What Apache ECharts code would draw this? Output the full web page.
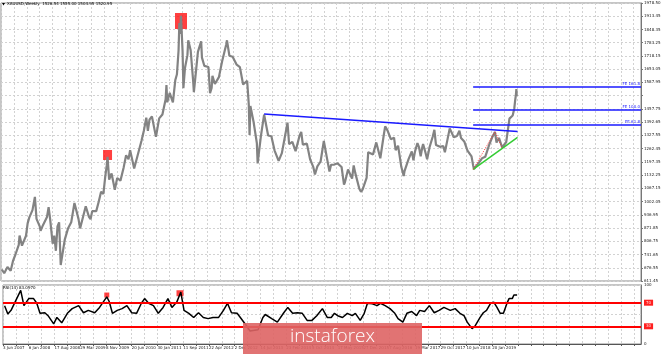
<!DOCTYPE html>
<html><head><meta charset="utf-8">
<script src="https://cdn.jsdelivr.net/npm/echarts@6/dist/echarts.min.js"></script>
<style>html,body{margin:0;padding:0;background:#fff}#c{width:665px;height:354px}</style>
</head><body><div id="c"></div>
<script>
// ---------- data ----------
const priceDates = ['2007-06-03','2007-06-24','2007-07-22','2007-08-19','2007-09-09','2007-09-30','2007-10-28','2007-11-04','2007-11-25','2007-12-30',
'2008-01-13','2008-01-27','2008-02-24','2008-03-16','2008-03-30','2008-04-27','2008-05-04','2008-05-25','2008-06-29','2008-07-13','2008-07-27','2008-08-17','2008-08-31','2008-09-14','2008-09-28','2008-10-12','2008-10-26','2008-11-09','2008-11-30','2008-12-28',
'2009-01-25','2009-02-22','2009-03-29','2009-04-12','2009-05-31','2009-06-28','2009-07-12','2009-07-26','2009-08-30','2009-09-20','2009-10-11','2009-10-31','2009-11-15','2009-11-29','2009-12-06','2009-12-20',
'2010-01-10','2010-01-31','2010-02-07','2010-02-28','2010-03-28','2010-04-25','2010-05-16','2010-06-06','2010-06-20','2010-07-25','2010-08-29','2010-09-26','2010-10-17','2010-10-31','2010-11-07','2010-11-21','2010-12-05','2010-12-26',
'2011-01-30','2011-02-27','2011-03-27','2011-04-24','2011-05-01','2011-05-08','2011-05-29','2011-06-26','2011-07-17','2011-07-31','2011-08-14','2011-08-21','2011-08-28','2011-09-04','2011-09-18','2011-09-25','2011-10-09','2011-10-30','2011-11-06','2011-11-27','2011-12-18','2011-12-25',
'2012-01-29','2012-02-26','2012-03-04','2012-03-25','2012-04-29','2012-05-13','2012-05-27','2012-06-03','2012-06-24','2012-07-29','2012-08-26','2012-09-30','2012-10-07','2012-10-28','2012-11-25','2012-12-30',
'2013-01-27','2013-02-24','2013-03-31','2013-04-14','2013-04-21','2013-04-28','2013-05-26','2013-06-23','2013-06-30','2013-07-28','2013-08-25','2013-09-29','2013-10-27','2013-11-24','2013-12-29',
'2014-01-26','2014-02-23','2014-03-16','2014-03-30','2014-04-27','2014-05-25','2014-06-29','2014-07-13','2014-07-27','2014-08-31','2014-09-28','2014-10-26','2014-11-09','2014-11-30','2014-12-28',
'2015-01-25','2015-02-22','2015-03-15','2015-03-29','2015-04-26','2015-05-24','2015-06-28','2015-07-19','2015-07-26','2015-08-23','2015-09-27','2015-10-11','2015-10-25','2015-11-29','2015-12-13','2015-12-27',
'2016-01-31','2016-02-14','2016-02-28','2016-03-27','2016-04-24','2016-05-01','2016-05-29','2016-06-26','2016-07-10','2016-07-31','2016-08-28','2016-09-25','2016-10-09','2016-10-30','2016-11-27','2016-12-18','2016-12-25',
'2017-01-29','2017-02-26','2017-03-12','2017-03-26','2017-04-16','2017-04-30','2017-05-14','2017-05-28','2017-06-04','2017-06-25','2017-07-09','2017-07-30','2017-08-27','2017-09-10','2017-09-24','2017-10-29','2017-11-26','2017-12-10','2017-12-31',
'2018-01-21','2018-02-25','2018-03-25','2018-04-15','2018-04-29','2018-05-27','2018-06-24','2018-07-29','2018-08-12','2018-08-19','2018-09-30','2018-10-28','2018-11-25','2018-12-30',
'2019-01-27','2019-02-17','2019-03-03','2019-03-24','2019-04-21','2019-05-26','2019-06-23','2019-06-30','2019-07-21','2019-08-04','2019-08-11','2019-08-18','2019-08-22','2019-08-25'];
const priceValues = [668,650,680,662,712,743,789,835,785,834,
895,923,960,1025,917,880,858,886,926,975,912,795,834,760,880,900,690,740,815,869,
900,995,917,870,979,927,915,955,955,1000,1050,1040,1118,1180,1222,1110,
1140,1081,1060,1118,1105,1170,1230,1210,1255,1165,1240,1300,1350,1357,1415,1350,1405,1421,
1320,1411,1430,1505,1575,1490,1536,1490,1600,1628,1745,1880,1826,1915,1740,1560,1660,1722,1795,1746,1600,1540,
1738,1790,1710,1669,1664,1535,1561,1620,1580,1614,1692,1773,1795,1719,1714,1675,
1663,1578,1596,1480,1330,1472,1393,1290,1190,1323,1430,1327,1323,1253,1202,
1240,1326,1390,1284,1296,1250,1327,1345,1282,1287,1210,1171,1135,1175,1199,
1300,1213,1150,1183,1184,1190,1172,1085,1095,1160,1115,1180,1142,1065,1050,1061,
1118,1245,1238,1234,1293,1300,1215,1322,1372,1351,1309,1316,1255,1277,1173,1128,1152,
1211,1249,1205,1249,1290,1268,1225,1269,1285,1242,1210,1269,1322,1355,1280,1271,1275,1245,1303,
1362,1318,1325,1350,1315,1298,1253,1224,1180,1162,1192,1215,1222,1282,
1321,1344,1292,1315,1268,1295,1410,1409,1425,1460,1497,1527,1555,1521];

const rsiDates = ['2007-06-10','2007-07-08','2007-08-05','2007-09-16','2007-10-28','2007-11-25','2008-01-06','2008-02-17','2008-03-16','2008-04-13','2008-05-25','2008-06-22','2008-08-10','2008-09-07','2008-10-19','2008-12-07',
'2009-01-18','2009-03-15','2009-04-26','2009-06-07','2009-08-02','2009-09-13','2009-11-15','2009-12-06','2010-01-03','2010-02-14','2010-03-28','2010-05-09','2010-06-20','2010-08-01','2010-09-12','2010-10-10','2010-11-14','2010-12-26',
'2011-02-06','2011-03-20','2011-05-01','2011-06-05','2011-07-17','2011-08-21','2011-09-18','2011-10-30','2011-12-11','2012-01-22','2012-03-04','2012-04-15','2012-05-27','2012-07-15','2012-08-26','2012-09-30','2012-11-04','2012-12-23',
'2013-01-20','2013-03-03','2013-04-14','2013-06-23','2013-08-04','2013-08-25','2013-10-20','2013-12-08','2014-02-02','2014-03-09','2014-04-20','2014-06-01','2014-07-13','2014-08-24','2014-10-05','2014-11-16',
'2015-01-04','2015-02-15','2015-03-22','2015-04-19','2015-05-17','2015-06-28','2015-08-09','2015-09-20','2015-10-18','2015-11-29','2016-01-03','2016-01-31','2016-03-13','2016-04-24','2016-05-22','2016-07-03','2016-08-14','2016-09-25','2016-10-23','2016-12-04',
'2017-01-08','2017-02-19','2017-04-02','2017-04-30','2017-06-11','2017-07-23','2017-09-03','2017-10-15','2017-11-26','2018-01-21','2018-03-04','2018-04-15','2018-05-20','2018-06-17','2018-07-29','2018-08-26','2018-10-07','2018-11-04','2018-12-02',
'2019-01-06','2019-02-03','2019-03-03','2019-03-31','2019-04-28','2019-06-02','2019-06-16','2019-06-30','2019-07-14','2019-07-28','2019-08-11','2019-08-25'];
const rsiValues = [65,51,57,74,91,65,77,77,69,52,53,48,34,45,36,52,
60,65,53,57,53,62,80,72,52,57,60,65,53,52,69,77,69,65,
52,62,77,62,71,88,57,52,45,53,45,43,45,45,57,69,53,52,
45,34,22,24,45,50,43,37,53,62,52,53,52,40,40,48,
60,45,45,52,48,45,52,48,52,40,52,69,68,65,69,65,60,52,43,37,
52,55,48,57,55,65,53,57,62,57,60,52,48,37,26,31,45,53,57,
69,71,62,52,52,71,77,80,77,83,86,83.1];

const priceTickLabels = ['611.45','676.55','741.65','806.75','871.85','936.95','1002.05','1067.15','1132.25','1197.35','1262.45','1327.55','1392.65','1457.75','1522.85','1587.95','1653.05','1718.15','1783.25','1848.35','1913.45','1978.50'];
const dateTickLabels = ['3 Jun 2007','6 Jan 2008','17 Aug 2008','29 Mar 2009','8 Nov 2009','20 Jun 2010','30 Jan 2011','11 Sep 2011','22 Apr 2012','2 Dec 2012','14 Jul 2013','23 Feb 2014','5 Oct 2014','17 May 2015','27 Dec 2015','7 Aug 2016','19 Mar 2017','29 Oct 2017','10 Jun 2018','20 Jan 2019'];

const lastPrice = 1520.95;
const headerText = 'XAUUSD,Weekly  1526.54 1555.00 1504.95 1520.95';
const rsiHeader = 'RSI(14) 83.0970';
const rsiLevels = [70, 30];

// trend lines  [date, price]
const resistanceLine = [['2013-08-25', 1433], ['2019-09-01', 1346]];
const supportLine = [['2018-08-12', 1160], ['2019-09-01', 1318]];
const feDates = ['2018-08-12', '2019-02-17', '2019-04-21'];
const fePrices = [1160, 1346, 1266];
const feRatios = [0.618, 1.0, 1.618];
const feNames = ['FE 61.8', 'FE 100.0', 'FE 161.8'];

const priceMarkDates = ['2009-12-06', '2011-09-04'];
const priceMarkValues = [1231, 1890];
const rsiMarkDates = ['2009-11-15', '2011-08-14'];
const rsiMarkValues = [83, 86];

// ---------- helpers ----------
const W0 = Date.UTC(2008, 0, 6);
function wk(d) { const p = d.split('-').map(Number); return (Date.UTC(p[0], p[1] - 1, p[2]) - W0) / (7 * 86400000); }
const pairs = (ds, vs) => ds.map((d, i) => [wk(d), vs[i]]);

const pMin = 611.4, pStep = 65.1, pMax = 1978.5;
const XMIN = -32, XMAX = 761;

const gridLine = { show: true, lineStyle: { color: '#d2d2d2', type: [2, 2], width: 1 } };
const tiny = { fontFamily: 'DejaVu Sans', fontSize: 4, color: '#222' };

const feLines = feRatios.map((r, i) => {
  const lvl = fePrices[2] + r * (fePrices[1] - fePrices[0]);
  return [{ coord: [wk(feDates[0]), lvl] }, { coord: [XMAX, lvl], label: { formatter: feNames[i] } }];
});

const chart = echarts.init(document.getElementById('c'), null, { renderer: 'canvas' });
chart.setOption({
  animation: false,
  backgroundColor: '#ffffff',
  grid: [
    { left: 1, right: 24, top: 3, height: 278, show: true, borderColor: '#8c8c8c', borderWidth: 1, backgroundColor: 'transparent' },
    { left: 1, right: 24, top: 285, height: 59, show: true, borderColor: '#8c8c8c', borderWidth: 1, backgroundColor: 'transparent' }
  ],
  xAxis: [
    { type: 'value', gridIndex: 0, min: XMIN, max: XMAX, interval: 16, axisLine: { show: false, onZero: false }, axisTick: { show: false }, axisLabel: { show: false }, splitLine: gridLine },
    { type: 'value', gridIndex: 1, min: XMIN, max: XMAX, interval: 16,
      axisLine: { show: true, onZero: false, lineStyle: { color: '#555' } },
      axisTick: { show: true, length: 2, lineStyle: { color: '#555' }, interval: 0 },
      axisLabel: Object.assign({}, tiny, { align: 'left', margin: 2, showMinLabel: true, showMaxLabel: false,
        formatter: v => { const i = (v - XMIN) / 32; return (Number.isInteger(i) && i < dateTickLabels.length) ? dateTickLabels[i] : ''; } }),
      splitLine: gridLine }
  ],
  yAxis: [
    { type: 'value', gridIndex: 0, position: 'right', min: pMin, max: pMax, interval: pStep,
      axisLine: { show: true, onZero: false, lineStyle: { color: '#777' } },
      axisTick: { show: true, length: 2, inside: false, lineStyle: { color: '#777' } },
      axisLabel: Object.assign({}, tiny, { margin: 3, showMinLabel: true, showMaxLabel: true,
        formatter: v => { const i = Math.round((v - pMin) / pStep); return i === 14 ? '' : (priceTickLabels[i] || ''); } }),
      splitLine: gridLine },
    { type: 'value', gridIndex: 1, position: 'right', min: 0, max: 100, interval: 50,
      axisLine: { show: true, onZero: false, lineStyle: { color: '#777' } },
      axisTick: { show: false },
      axisLabel: Object.assign({}, tiny, { margin: 3, formatter: v => (v === 0 || v === 100) ? String(v) : '' }),
      splitLine: gridLine }
  ],
  series: [
    { type: 'scatter', xAxisIndex: 0, yAxisIndex: 0, z: 1, silent: true,
      data: pairs(priceMarkDates, priceMarkValues).map((p, i) => ({ value: p, symbolSize: i ? [12, 16] : [9, 10] })),
      symbol: 'rect', itemStyle: { color: '#ff1010' } },
    { type: 'line', xAxisIndex: 0, yAxisIndex: 0, z: 3, data: pairs(priceDates, priceValues), showSymbol: false, symbol: 'none',
      lineStyle: { color: '#838383', width: 2.2 },
      markLine: { silent: true, symbol: 'none', data: [{ yAxis: lastPrice }], lineStyle: { opacity: 0 },
        label: { position: 'end', formatter: lastPrice.toFixed(2), backgroundColor: '#000', color: '#fff', fontSize: 4, fontFamily: 'DejaVu Sans', padding: [1, 2], distance: 2 } } },
    { type: 'line', xAxisIndex: 0, yAxisIndex: 0, z: 4, data: resistanceLine.map(p => [wk(p[0]), p[1]]), symbol: 'none', lineStyle: { color: '#1a1aff', width: 1.5 } },
    { type: 'line', xAxisIndex: 0, yAxisIndex: 0, z: 4, data: supportLine.map(p => [wk(p[0]), p[1]]), symbol: 'none', lineStyle: { color: '#33cc33', width: 1.5 } },
    { type: 'line', xAxisIndex: 0, yAxisIndex: 0, z: 4, data: pairs(feDates, fePrices), symbol: 'none', lineStyle: { color: '#ff3030', width: 1, type: [1, 1.5] },
      markLine: { silent: true, symbol: 'none', data: feLines, lineStyle: { color: '#1a1aff', width: 1.5, type: 'solid' },
        label: { position: 'insideEndTop', color: '#1a1aff', fontSize: 4, fontFamily: 'DejaVu Sans', distance: 1 } } },
    { type: 'scatter', xAxisIndex: 1, yAxisIndex: 1, z: 1, silent: true,
      data: pairs(rsiMarkDates, rsiMarkValues).map((p, i) => ({ value: p, symbolSize: i ? [7, 6] : [5, 5] })),
      symbol: 'rect', itemStyle: { color: '#ff1010' } },
    { type: 'line', xAxisIndex: 1, yAxisIndex: 1, z: 3, data: pairs(rsiDates, rsiValues), symbol: 'none',
      lineStyle: { color: '#000', width: 1.5 },
      markLine: { silent: true, symbol: 'none', data: rsiLevels.map(v => ({ yAxis: v })),
        lineStyle: { color: '#ff0000', width: 2, type: 'solid' },
        label: { position: 'end', formatter: p => String(p.value), backgroundColor: '#ff2020', color: '#ffe0e0', fontSize: 4, fontFamily: 'DejaVu Sans', padding: [1, 2], distance: 3 } } }
  ],
  graphic: [
    { type: 'polygon', shape: { points: [[2, 3], [5, 3], [3.5, 5.5]] }, style: { fill: '#000' }, z: 10 },
    { type: 'text', left: 7, top: 2, z: 10, style: { text: headerText, fontSize: 4, fontFamily: 'DejaVu Sans', fill: '#000' } },
    { type: 'text', left: 3, top: 286, z: 10, style: { text: rsiHeader, fontSize: 4, fontFamily: 'DejaVu Sans', fill: '#000' } },
    { type: 'rect', left: 243, top: 323, z: 20, shape: { width: 179, height: 31 }, style: { fill: 'rgba(222,100,100,0.9)' } },
    { type: 'text', left: 290, top: 327, z: 21, style: { text: 'instaforex', fontSize: 19, fontWeight: 300, fontFamily: 'Open Sans', fill: '#ffffff' } }
  ]
});
</script></body></html>
